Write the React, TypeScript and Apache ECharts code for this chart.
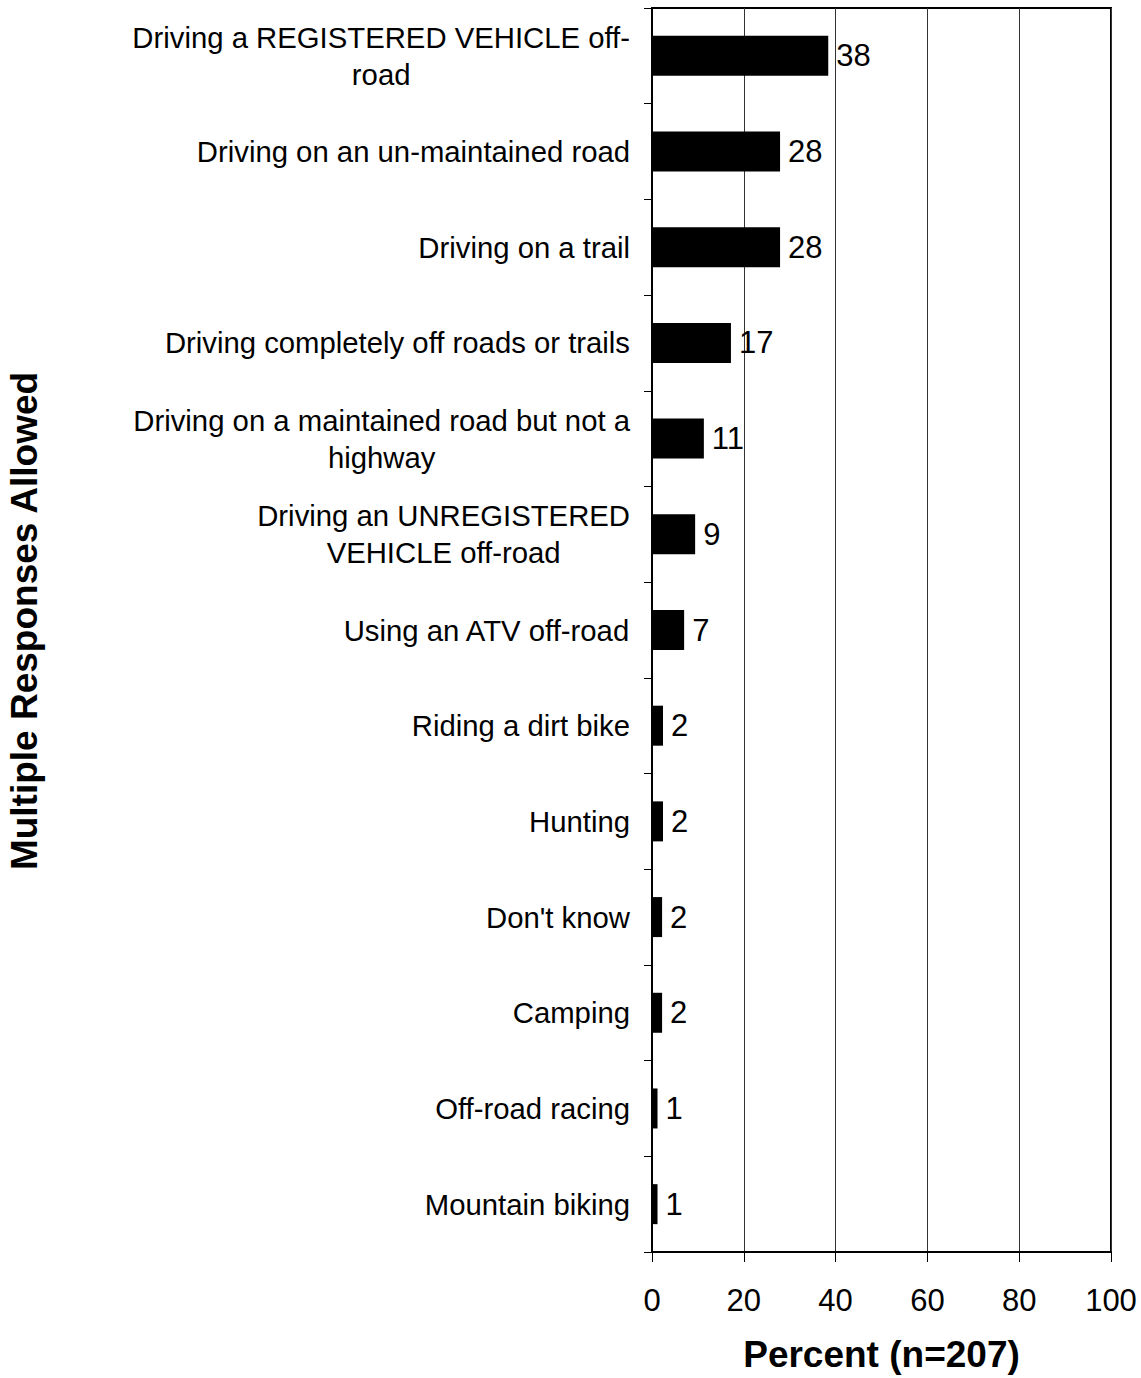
import React, { useEffect, useRef } from "react";
import * as echarts from "echarts";

const categories: string[] = [
  "Driving a REGISTERED VEHICLE off-\nroad",
  "Driving on an un-maintained road",
  "Driving on a trail",
  "Driving completely off roads or trails",
  "Driving on a maintained road but not a\nhighway",
  "Driving an UNREGISTERED\nVEHICLE off-road",
  "Using an ATV off-road",
  "Riding a dirt bike",
  "Hunting",
  "Don't know",
  "Camping",
  "Off-road racing",
  "Mountain biking",
];

const percentValues: number[] = [38.4, 27.9, 27.9, 17.2, 11.3, 9.4, 7.0, 2.4, 2.4, 2.2, 2.2, 1.2, 1.2];

const xTicks = { min: 0, max: 100, interval: 20 };
const xTitle = "Percent (n=207)";
const yTitle = "Multiple Responses Allowed";

const FONT = "'Liberation Sans', Arial, Helvetica, sans-serif";

export default function App() {
  const ref = useRef<HTMLDivElement>(null);
  useEffect(() => {
    document.body.style.margin = "0";
    const chart = echarts.init(ref.current!, null, { renderer: "svg" });
    chart.setOption({
      animation: false,
      backgroundColor: "#fff",
      textStyle: { fontFamily: FONT },
      grid: {
        left: 652,
        right: 30,
        top: 8,
        bottom: 124,
        show: true,
        borderColor: "#000",
        borderWidth: 2,
        backgroundColor: "transparent",
      },
      xAxis: {
        type: "value",
        min: xTicks.min,
        max: xTicks.max,
        interval: xTicks.interval,
        name: xTitle,
        nameLocation: "middle",
        nameGap: 84,
        nameTextStyle: { fontSize: 37, fontWeight: "bold", color: "#000", fontFamily: FONT },
        axisLine: { show: true, lineStyle: { color: "#000", width: 2 } },
        axisTick: { show: true, length: 10, lineStyle: { color: "#000", width: 1 } },
        axisLabel: { fontSize: 31, color: "#000", margin: 33, fontFamily: FONT },
        splitLine: { show: true, lineStyle: { color: "#333", width: 1 } },
      },
      yAxis: {
        type: "category",
        inverse: true,
        data: categories,
        axisLine: { show: true, lineStyle: { color: "#000", width: 2 } },
        axisTick: { show: true, length: 8, inside: false, lineStyle: { color: "#000", width: 1 } },
        axisLabel: {
          margin: 22,
          align: "right",
          formatter: (v: string) =>
            v
              .split("\n")
              .map((l) => `{c|${l}}`)
              .join("\n"),
          rich: {
            c: { fontSize: 29.3, lineHeight: 37, align: "center", color: "#000", fontFamily: FONT },
          },
        },
        splitLine: { show: false },
      },
      graphic: [
        {
          type: "text",
          x: 24,
          y: 621,
          rotation: Math.PI / 2,
          style: {
            text: yTitle,
            font: `bold 37px ${FONT}`,
            fill: "#000",
            align: "center",
            verticalAlign: "middle",
          },
        },
      ],
      series: [
        {
          type: "bar",
          data: percentValues,
          barWidth: 40,
          itemStyle: { color: "#000" },
          label: {
            show: true,
            position: "right",
            distance: 8,
            fontSize: 31,
            color: "#000",
            fontFamily: FONT,
            formatter: (p: any) => String(Math.round(p.value)),
          },
        },
      ],
    });
    return () => chart.dispose();
  }, []);
  return <div ref={ref} style={{ width: 1141, height: 1378 }} />;
}
